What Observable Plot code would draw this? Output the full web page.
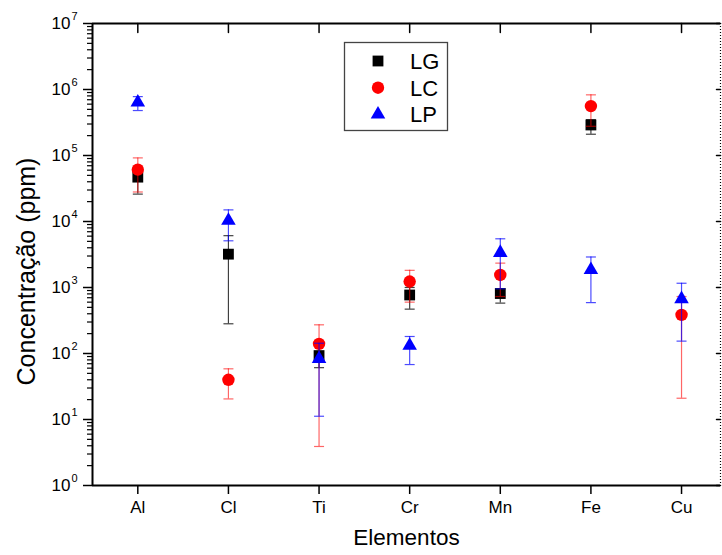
<!DOCTYPE html>
<html>
<head>
<meta charset="utf-8">
<script src="https://cdn.jsdelivr.net/npm/d3@7"></script>
<script src="https://cdn.jsdelivr.net/npm/@observablehq/plot@0.6"></script>
<style>
  html, body { margin: 0; padding: 0; background: #fff; }
  #chart { width: 722px; height: 555px; }
</style>
</head>
<body>
<div id="chart"></div>
<script>
// ---- Data ----
const categories = ["Al", "Cl", "Ti", "Cr", "Mn", "Fe", "Cu"];

const LG    = [4.7e4, 3.2e3, 93, 770, 810, 2.9e5, null];
const LG_lo = [2.6e4, 282,   61, 470, 580, 2.1e5, null];
const LG_hi = [6.3e4, 6.1e3, 132, 1000, 955, 3.5e5, null];

const LC    = [6.1e4, 40,   140, 1230, 1550, 5.6e5, 385];
const LC_lo = [2.8e4, 20.5, 3.9, 600,  730,  2.77e5, 21];
const LC_hi = [9.2e4, 58.6, 272, 1820, 2340, 8.3e5, 730];

const LP    = [6.4e5, 1.03e4, 83,   132, 3360, 1850, 670];
const LP_lo = [4.8e5, 5.1e3,  11.2, 68,  955,  590,  154];
const LP_hi = [7.8e5, 1.5e4,  143,  181, 5470, 2900, 1160];

const seriesNames = ["LG", "LC", "LP"];
const seriesColors = ["#000000", "#ff0000", "#0000ff"];
const seriesSymbols = ["square", "circle", "triangle"];

const yDecades = [1, 10, 100, 1e3, 1e4, 1e5, 1e6, 1e7];
const xDomain = [0.5, 7.43];
const yDomain = [1, 1e7];

// ---- Derived tables ----
const xIdx = categories.map((_, i) => i + 1);
const minorTicks = [];
yDecades.slice(0, -1).forEach(d => { for (let k = 2; k <= 9; k++) minorTicks.push(k * d); });

function table(v, lo, hi) {
  return categories.map((c, i) => ({cat: c, x: i + 1, v: v[i], lo: lo[i], hi: hi[i]}))
                   .filter(d => d.v != null);
}
const tables = [table(LG, LG_lo, LG_hi), table(LC, LC_lo, LC_hi), table(LP, LP_lo, LP_hi)];

// custom shapes
const capSymbol = { draw(ctx, size) { const w = Math.sqrt(size / Math.PI); ctx.moveTo(-w, 0); ctx.lineTo(w, 0); } };
const spike = { draw(ctx, l) { ctx.moveTo(0, 0); ctx.lineTo(0, -l); } };
const markerR = {square: 6.1, circle: 6.2, triangle: 5.4};
const barOpacity = [0.75, 0.6, 0.7];

const seriesMarks = tables.flatMap((t, s) => [
  Plot.ruleX(t, {x: "x", y1: "lo", y2: "hi", stroke: seriesColors[s], strokeOpacity: barOpacity[s], strokeWidth: 1.2}),
  Plot.dot(t, {x: "x", y: "lo", symbol: capSymbol, r: 5, fill: "none", stroke: seriesColors[s], strokeOpacity: barOpacity[s], strokeWidth: 1.2}),
  Plot.dot(t, {x: "x", y: "hi", symbol: capSymbol, r: 5, fill: "none", stroke: seriesColors[s], strokeOpacity: barOpacity[s], strokeWidth: 1.2}),
  Plot.dot(t, {x: "x", y: "v", symbol: seriesSymbols[s], r: markerR[seriesSymbols[s]], fill: seriesColors[s], stroke: "none"})
]);

const plot = Plot.plot({
  width: 722,
  height: 555,
  marginLeft: 92,
  marginRight: 2,
  marginTop: 23,
  marginBottom: 70,
  style: {fontFamily: "'Liberation Sans', Arial, Helvetica, sans-serif", fontSize: "16px", color: "#000", background: "#fff", overflow: "visible"},
  x: {type: "linear", domain: xDomain},
  y: {type: "log", domain: yDomain},
  marks: [
    // left axis: major + minor ticks
    Plot.axisY({ticks: yDecades, tickSize: 9, tickFormat: () => "", strokeWidth: 1.5, label: null}),
    Plot.axisY({ticks: minorTicks, tickSize: 5, tickFormat: () => "", strokeWidth: 1.2, label: null}),
    // left tick labels 10^n
    Plot.text(yDecades, {y: d => d, text: () => "10", frameAnchor: "left", textAnchor: "end", dx: -22, fontSize: 17}),
    Plot.text(yDecades, {y: d => d, text: d => String(Math.round(Math.log10(d))), frameAnchor: "left", textAnchor: "start", dx: -21, dy: -7, fontSize: 11}),
    // bottom axis
    Plot.axisX({ticks: xIdx, tickSize: 9, tickPadding: 6, tickFormat: i => categories[i - 1], fontSize: 17, strokeWidth: 1.5, label: null}),
    // top inward ticks
    Plot.vector(xIdx, {x: d => d, frameAnchor: "top", length: 9, rotate: 180, anchor: "start", shape: spike, stroke: "#000", strokeWidth: 1.5}),
    // right inward ticks
    Plot.vector(yDecades, {y: d => d, frameAnchor: "right", length: 4, rotate: -90, anchor: "start", shape: spike, stroke: "#000", strokeWidth: 1.5}),
    // axis titles
    Plot.text(["Elementos"], {frameAnchor: "bottom", lineAnchor: "middle", textAnchor: "middle", dy: 52, fontSize: 22.5}),
    Plot.text(["Concentração (ppm)"], {frameAnchor: "left", textAnchor: "middle", lineAnchor: "middle", dx: -66, dy: 17, rotate: -90, fontSize: 25}),
    // data
    ...seriesMarks,
    // frame
    Plot.ruleY([yDomain[1], yDomain[0]], {stroke: "#000", strokeWidth: 2}),
    Plot.ruleX([xDomain[0]], {stroke: "#000", strokeWidth: 2}),
    Plot.ruleX([xDomain[1]], {stroke: "#000", strokeWidth: 1.2, strokeDasharray: "1,2"})
  ]
});

document.getElementById("chart").appendChild(plot);

// ---- Legend (inside plot, upper middle) ----
const svg = d3.select(plot.tagName.toLowerCase() === "svg" ? plot : plot.querySelector("svg"));
const lg = svg.append("g").attr("class", "legend").attr("text-anchor", "start");
lg.append("rect").attr("x", 344.5).attr("y", 42.5).attr("width", 103).attr("height", 88)
  .attr("fill", "#fff").attr("stroke", "#444").attr("stroke-width", 1.3);
const symMap = {square: d3.symbolSquare, circle: d3.symbolCircle, triangle: d3.symbolTriangle};
seriesNames.forEach((name, i) => {
  const cy = 61 + i * 26.7;
  const r = markerR[seriesSymbols[i]];
  lg.append("path")
    .attr("d", d3.symbol(symMap[seriesSymbols[i]], r * r * Math.PI)())
    .attr("transform", `translate(378,${cy})`)
    .attr("fill", seriesColors[i]);
  lg.append("text").attr("x", 410).attr("y", cy).attr("dy", "0.36em")
    .attr("text-anchor", "start")
    .attr("font-size", 22).attr("fill", "#000").text(name);
});
</script>
</body>
</html>
